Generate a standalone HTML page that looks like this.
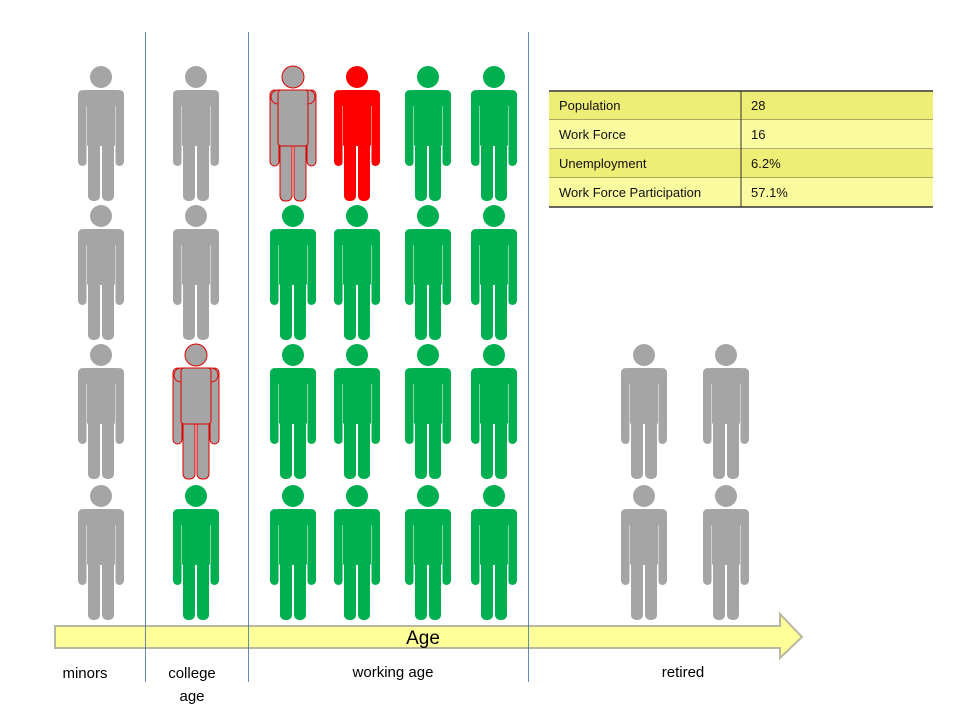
<!DOCTYPE html>
<html><head><meta charset="utf-8"><style>
body{margin:0;background:#fff;font-family:"Liberation Sans",sans-serif}
svg{display:block}
</style></head><body>
<svg width="960" height="720" viewBox="0 0 960 720">
<g id="people"></g>
<g>
<polygon points="55,626 780,626 780,614 802,637 780,658 780,648 55,648" fill="#ffff99" stroke="#b8b8a0" stroke-width="2"/>
<text x="423" y="644" font-size="19" text-anchor="middle" fill="#000">Age</text>
</g>
<g id="dividers"></g>
<g font-size="15" fill="#000" text-anchor="middle">
<text x="85" y="678">minors</text>
<text x="192" y="678">college</text>
<text x="192" y="701">age</text>
<text x="393" y="677">working age</text>
<text x="683" y="677">retired</text>
</g>
<g id="table"></g>
</svg>
<script>
const NS="http://www.w3.org/2000/svg";
const columnX=[101,196,293,357,428,494,644,726];
const rowY=[66,205,344,485];
const columnStatus=[
 ["g","g","g","g"],
 ["g","g","o","e"],
 ["o","e","e","e"],
 ["u","e","e","e"],
 ["e","e","e","e"],
 ["e","e","e","e"],
 ["-","-","g","g"],
 ["-","-","g","g"]
];
const tableLabels=["Population","Work Force","Unemployment","Work Force Participation"];
const tableValues=["28","16","6.2%","57.1%"];
const dividerX=[145,248,528];

function mk(t,a,p){const e=document.createElementNS(NS,t);for(const k in a)e.setAttribute(k,a[k]);p.appendChild(e);return e;}

const dv=document.getElementById('dividers');
dividerX.forEach(x=>{
 const l=mk('line',{x1:x+0.5,x2:x+0.5,y1:32,y2:682,stroke:'#3f6fa8','stroke-width':0.8},dv);
 
 
});

const colors={g:'#a5a5a5',e:'#00b050',u:'#ff0000',o:'#a5a5a5'};
const pp=document.getElementById('people');
columnStatus.forEach((col,ci)=>{
 col.forEach((s,ri)=>{
  if(s==='-')return;
  const g=mk('g',{transform:`translate(${columnX[ci]},${rowY[ri]})`},pp);
  
  
  const st=s==='o'?{stroke:'#e00000','stroke-width':1}:{};
  const f=colors[s];
  const parts=[
   ['circle',{cx:0,cy:11,r:11}],
   ['rect',{x:-13,y:72,width:12,height:63,rx:5}],
   ['rect',{x:1,y:72,width:12,height:63,rx:5}],
   ['rect',{x:-23,y:24,width:9,height:76,rx:4.5}],
   ['rect',{x:14,y:24,width:9,height:76,rx:4.5}],
   ['rect',{x:-22,y:24,width:44,height:14,rx:7}],
   ['rect',{x:-15,y:24,width:30,height:56,rx:3}]
  ];
  parts.forEach(([t,a])=>mk(t,Object.assign({fill:f},a,st),g));
  if(s!=='o'){
   mk('line',{x1:-14.5,x2:-14.5,y1:40,y2:100,stroke:'#fff','stroke-width':0.8,opacity:0.6},g);
   mk('line',{x1:14.5,x2:14.5,y1:40,y2:100,stroke:'#fff','stroke-width':0.8,opacity:0.6},g);
  }
 });
});

const tb=document.getElementById('table');
const tx=549,tw=384,split=741,ty=91,rh=29;
tableLabels.forEach((lab,i)=>{
 const y=ty+i*rh;
 const r=mk('rect',{x:tx,y:y,width:tw,height:rh,fill:i%2===0?'#eeee77':'#fafa9e'},tb);
 
 
 const t1=mk('text',{x:tx+10,y:y+19,'font-size':13,fill:'#111'},tb);t1.textContent=lab;
 
 
 const t2=mk('text',{x:split+10,y:y+19,'font-size':13,fill:'#111'},tb);t2.textContent=tableValues[i];
 
 
 mk('line',{x1:tx,x2:tx+tw,y1:y+rh,y2:y+rh,stroke:'#333','stroke-width':i===tableLabels.length-1?1.5:0.8},tb);
});
mk('line',{x1:tx,x2:tx+tw,y1:ty,y2:ty,stroke:'#333','stroke-width':1.5},tb);
mk('line',{x1:split,x2:split,y1:ty,y2:ty+rh*tableLabels.length,stroke:'#333','stroke-width':1},tb);
</script>
</body></html>
